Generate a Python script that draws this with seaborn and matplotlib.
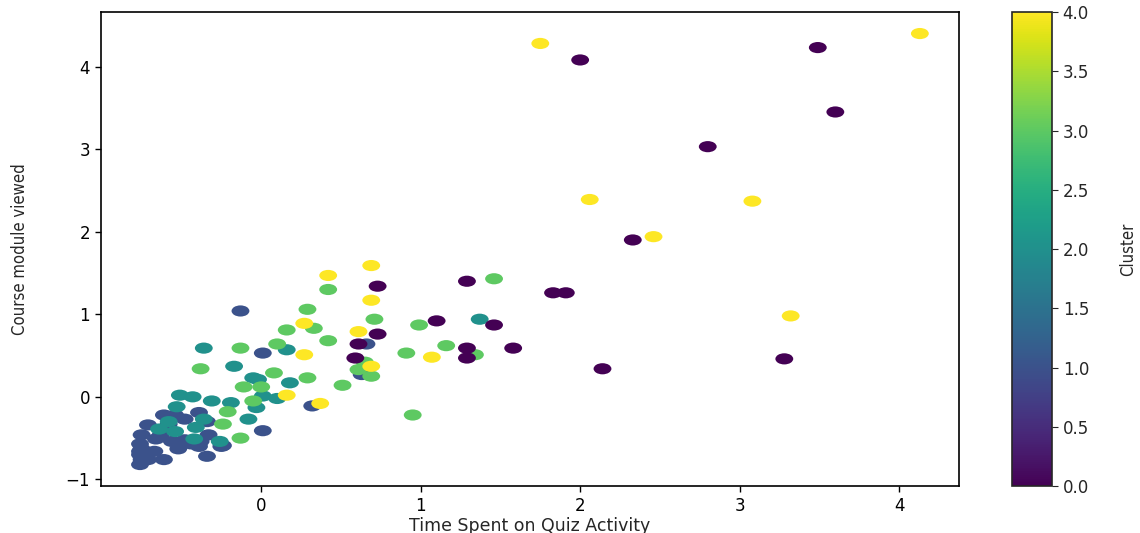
import numpy as np
import pandas as pd
import matplotlib
matplotlib.use("Agg")
import matplotlib.pyplot as plt
from matplotlib.path import Path
from matplotlib.transforms import Affine2D
import seaborn as sns

# ---- data (x = Time Spent on Quiz Activity, y = Course module viewed) ----
c1_x = [-0.13, 0.01, 0.66, 0.63, 0.32, 0.01, -0.34, -0.39, -0.61, -0.48, -0.34, -0.71, -0.75, -0.63,
        -0.48, -0.38, -0.25, -0.33, -0.56, -0.76, -0.76, -0.76, -0.71, -0.61, -0.67, -0.52, -0.39,
        -0.76, -0.66, -0.54, -0.58, -0.44, -0.24, -0.75, -0.75]
c1_y = [1.04, 0.53, 0.64, 0.27, -0.11, -0.41, -0.72, -0.19, -0.22, -0.27, -0.30, -0.34, -0.46, -0.46,
        -0.52, -0.54, -0.60, -0.46, -0.54, -0.57, -0.70, -0.82, -0.76, -0.76, -0.66, -0.63, -0.60,
        -0.66, -0.51, -0.22, -0.33, -0.57, -0.59, -0.63, -0.76]

c2_x = [1.37, -0.36, 0.16, -0.17, -0.05, -0.02, 0.18, 0.01, 0.10, -0.51, -0.43, -0.31, -0.19, -0.53,
        -0.03, -0.08, -0.58, -0.36, -0.41, -0.64, -0.54, -0.42, -0.26]
c2_y = [0.94, 0.59, 0.57, 0.37, 0.23, 0.21, 0.17, 0.01, -0.02, 0.02, 0.00, -0.05, -0.07, -0.12,
        -0.13, -0.27, -0.30, -0.27, -0.37, -0.39, -0.42, -0.51, -0.54]

c3_x = [1.46, 0.42, 0.29, 0.71, 0.99, 0.33, 0.16, 0.42, 1.16, 0.91, 1.34, 0.65, 0.61, 0.69, 0.29,
        0.51, 0.95, -0.13, 0.10, -0.38, 0.08, -0.11, 0.00, -0.05, -0.21, -0.24, -0.13]
c3_y = [1.43, 1.30, 1.06, 0.94, 0.87, 0.83, 0.81, 0.68, 0.62, 0.53, 0.51, 0.42, 0.33, 0.25, 0.23,
        0.14, -0.22, 0.59, 0.64, 0.34, 0.29, 0.12, 0.12, -0.05, -0.18, -0.33, -0.50]

c0_x = [2.00, 3.49, 3.60, 2.80, 2.33, 1.29, 1.83, 1.91, 0.73, 1.10, 1.46, 0.73, 0.61, 0.59, 1.29,
        1.29, 1.58, 2.14, 3.28]
c0_y = [4.08, 4.23, 3.45, 3.03, 1.90, 1.40, 1.26, 1.26, 1.34, 0.92, 0.87, 0.76, 0.64, 0.47, 0.59,
        0.47, 0.59, 0.34, 0.46]

c4_x = [1.75, 4.13, 2.06, 3.08, 2.46, 3.32, 0.69, 0.42, 0.69, 0.27, 0.61, 0.27, 1.07, 0.69, 0.16, 0.37]
c4_y = [4.28, 4.40, 2.39, 2.37, 1.94, 0.98, 1.59, 1.47, 1.17, 0.89, 0.79, 0.51, 0.48, 0.37, 0.02, -0.08]

cluster_ids = [1, 2, 3, 0, 4]
xs = [c1_x, c2_x, c3_x, c0_x, c4_x]
ys = [c1_y, c2_y, c3_y, c0_y, c4_y]

rows = []
for cid, xv, yv in zip(cluster_ids, xs, ys):
    for a, b in zip(xv, yv):
        rows.append((a, b, cid))
df = pd.DataFrame(rows, columns=["Time Spent on Quiz Activity", "Course module viewed", "Cluster"])

# ---- plot ----
sns.set_style("ticks")
plt.rcParams["font.family"] = ["DejaVu Sans"]

fig = plt.figure(figsize=(11.4, 5.33), dpi=100)
ax = fig.add_axes([0.0886, 0.088, 0.7525, 0.8895])
cax = fig.add_axes([0.888, 0.088, 0.035, 0.8895])

ellipse = Path.unit_circle().transformed(Affine2D().scale(1.6, 1.0))

sns.scatterplot(data=df, x="Time Spent on Quiz Activity", y="Course module viewed",
                hue="Cluster", palette="viridis", hue_norm=(0, 4), legend=False,
                marker=ellipse, s=165, linewidth=0, ax=ax)

ax.set_xticks([0, 1, 2, 3, 4])
ax.set_yticks([-1, 0, 1, 2, 3, 4])
ax.tick_params(axis="both", labelsize=12, length=4, width=1, colors="black", pad=4)
ax.set_xlabel("Time Spent on Quiz Activity", fontsize=12.5, labelpad=1)
ax.set_ylabel("Course module viewed", fontsize=12, fontstretch="condensed",
              family=["DejaVu Sans"], labelpad=26)
for sp in ax.spines.values():
    sp.set_visible(True)
    sp.set_color("black")
    sp.set_linewidth(1.2)

sm = plt.cm.ScalarMappable(cmap="viridis", norm=plt.Normalize(0, 4))
cb = fig.colorbar(sm, cax=cax)
cb.set_ticks([0, 0.5, 1, 1.5, 2, 2.5, 3, 3.5, 4])
cb.ax.tick_params(labelsize=12, length=4)
cb.set_label("Cluster", fontsize=12, fontstretch="condensed", family=["DejaVu Sans"], labelpad=22)
cb.outline.set_linewidth(1.2)

fig.savefig("out.png", dpi=100)
